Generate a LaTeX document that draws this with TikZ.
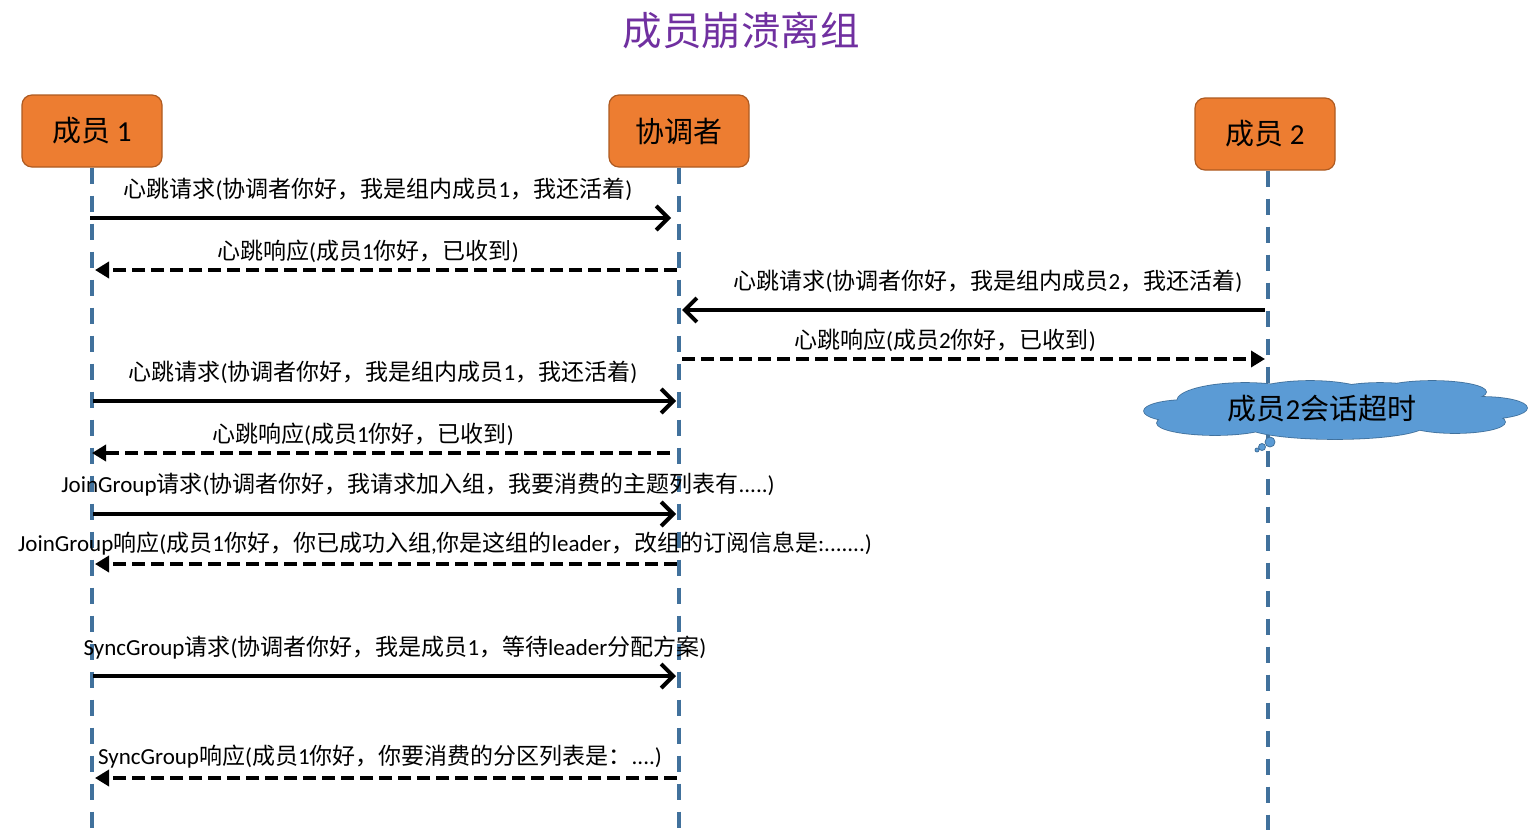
\documentclass[tikz,border=0pt]{standalone}
\usepackage{fontspec}
\setmainfont{Carlito}
\newfontfamily\cjk{Noto Sans CJK SC}
\usetikzlibrary{arrows.meta}
\XeTeXinterchartokenstate=1
\newXeTeXintercharclass\cjkclass
\count255="3000
\loop\XeTeXcharclass\count255=\cjkclass \advance\count255 by 1 \ifnum\count255<"3040 \repeat
\count255="4E00
\loop\XeTeXcharclass\count255=\cjkclass \advance\count255 by 1 \ifnum\count255<"A000 \repeat
\count255="FF00
\loop\XeTeXcharclass\count255=\cjkclass \advance\count255 by 1 \ifnum\count255<"FFF0 \repeat
\XeTeXinterchartoks 0 \cjkclass = {\cjk}
\XeTeXinterchartoks 4095 \cjkclass = {\cjk}
\XeTeXinterchartoks \cjkclass 0 = {\rmfamily}
\XeTeXinterchartoks 4095 0 = {\rmfamily}
\definecolor{boxfill}{HTML}{ED7D31}
\definecolor{boxline}{HTML}{AE5A21}
\definecolor{lifeblue}{HTML}{41719C}
\definecolor{cloudfill}{HTML}{5B9BD5}
\definecolor{titlepurple}{HTML}{7030A0}
\begin{document}
\begin{tikzpicture}[x=1pt,y=-1pt,
  actor/.style={draw=boxline,line width=1.2pt,fill=boxfill,rounded corners=10pt,
    minimum width=140pt,minimum height=72pt,inner sep=0pt,font=\fontsize{29}{32}\selectfont},
  lifeline/.style={draw=lifeblue,line width=3.5pt,dash pattern=on 16pt off 12pt},
  req/.style={line width=4pt,-{Straight Barb[length=12pt,width=24pt,line width=4pt]}},
  resp/.style={line width=4.5pt,dash pattern=on 13pt off 6pt,-{Triangle[length=14pt,width=16pt]}},
  lbl/.style={inner sep=0pt,font=\fontsize{23}{26}\selectfont},
  bubble/.style={circle,draw=lifeblue,fill=cloudfill,line width=0.8pt,inner sep=0pt}]
\useasboundingbox (0,0) rectangle (1528,838);
\node[inner sep=0pt,text=titlepurple,font=\fontsize{39.5}{42}\selectfont] (title) at (741,30) {成员崩溃离组};
\node[actor] (m1) at (92,131) {成员 1};
\node[actor] (co) at (679,131) {协调者};
\node[actor] (m2) at (1265,134) {成员 2};
\coordinate (m1x) at (92,0);
\coordinate (cox) at (679,0);
\coordinate (m2x) at (1268,0);
\coordinate (m1end) at (92,830);
\coordinate (coend) at (679,830);
\coordinate (m2end) at (1268,830);
\draw[lifeline] (m1x |- m1.south) -- (m1end);
\draw[lifeline] (cox |- co.south) -- (coend);
\draw[lifeline] (m2x |- m2.south) -- (m2end);
% cloud: outlines first, then fills on top so only the outer boundary shows
\def\cloudparts{%
  (1187,411) ellipse [x radius=43,y radius=11]
  (1215,423) ellipse [x radius=58,y radius=12]
  (1245,401) ellipse [x radius=68,y radius=18]
  (1310,396) ellipse [x radius=62,y radius=15]
  (1380,396) ellipse [x radius=55,y radius=13]
  (1432,392) ellipse [x radius=54,y radius=11]
  (1482,408) ellipse [x radius=45,y radius=11]
  (1455,422) ellipse [x radius=50,y radius=11]
  (1335,425) ellipse [x radius=90,y radius=14]
  (1335,410) ellipse [x radius=150,y radius=24]}
\draw[lifeblue,line width=1.6pt] \cloudparts;
\fill[cloudfill] \cloudparts;
\node[inner sep=0pt,font=\fontsize{29}{32}\selectfont] (cl) at (1322,409) {成员2会话超时};
\node[bubble,minimum size=10pt] (b1) at (1270,442) {};
\node[bubble,minimum size=7pt] (b2) at (1262,447) {};
\node[bubble,minimum size=4pt] (b3) at (1257,450) {};
% messages
\coordinate (y1) at (0,218);
\coordinate (y2) at (0,270);
\coordinate (y3) at (0,310);
\coordinate (y4) at (0,359);
\coordinate (y5) at (0,401);
\coordinate (y6) at (0,453);
\coordinate (y7) at (0,514);
\coordinate (y8) at (0,564);
\coordinate (y9) at (0,676);
\coordinate (y10) at (0,778);
\draw[req,shorten >=8pt,shorten <=-2pt] (m1x |- y1) -- (cox |- y1);
\node[lbl] (l1) at (378,189) {心跳请求(协调者你好，我是组内成员1，我还活着)};
\draw[resp,shorten <=2pt,shorten >=3pt] (cox |- y2) -- (m1x |- y2);
\node[lbl] (l2) at (368,251) {心跳响应(成员1你好，已收到)};
\draw[req,shorten <=3pt,shorten >=3pt] (m2x |- y3) -- (cox |- y3);
\node[lbl] (l3) at (988,281) {心跳请求(协调者你好，我是组内成员2，我还活着)};
\draw[resp,shorten <=3pt,shorten >=3pt] (cox |- y4) -- (m2x |- y4);
\node[lbl] (l4) at (945,340) {心跳响应(成员2你好，已收到)};
\draw[req,shorten <=1pt,shorten >=3pt] (m1x |- y5) -- (cox |- y5);
\node[lbl] (l5) at (383,372) {心跳请求(协调者你好，我是组内成员1，我还活着)};
\draw[resp,shorten <=9pt,shorten >=0pt] (cox |- y6) -- (m1x |- y6);
\node[lbl] (l6) at (363,434) {心跳响应(成员1你好，已收到)};
\draw[req,shorten <=1pt,shorten >=3pt] (m1x |- y7) -- (cox |- y7);
\node[lbl] (l7) at (418,485) {JoinGroup请求(协调者你好，我请求加入组，我要消费的主题列表有.....)};
\draw[resp,shorten <=2pt,shorten >=3pt] (cox |- y8) -- (m1x |- y8);
\node[lbl] (l8) at (445,544) {JoinGroup响应(成员1你好，你已成功入组,你是这组的leader，改组的订阅信息是:.......)};
\draw[req,shorten <=1pt,shorten >=3pt] (m1x |- y9) -- (cox |- y9);
\node[lbl] (l9) at (395,648) {SyncGroup请求(协调者你好，我是成员1，等待leader分配方案)};
\draw[resp,shorten <=2pt,shorten >=3pt] (cox |- y10) -- (m1x |- y10);
\node[lbl] (l10) at (380,757) {SyncGroup响应(成员1你好，你要消费的分区列表是：....)};
\end{tikzpicture}
\end{document}
